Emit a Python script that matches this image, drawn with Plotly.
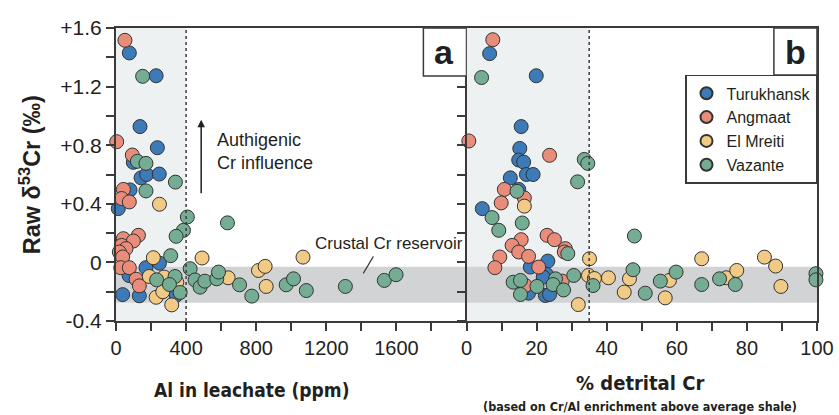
import plotly.graph_objects as go

# ---------------- data ----------------
series = ["Turukhansk", "Angmaat", "El Mreiti", "Vazante"]
colors = {"Turukhansk": "#3d7ab8", "Angmaat": "#ea8c7a", "El Mreiti": "#f1ca85", "Vazante": "#74ad93"}

# Panel a: Al in leachate (ppm) vs raw d53Cr
turukhansk_a_al = [76, 229, 137, 236, 99, 143, 175, 247, 80, 13, 248, 171, 75, 38, 133, 343]
turukhansk_a_d = [1.43, 1.274, 0.927, 0.783, 0.683, 0.577, 0.60, 0.603, 0.495, 0.367, -0.005, -0.036, -0.09, -0.22, -0.228, -0.225]

angmaat_a_al = [51, 4, 93, 42, 32, 76, 128, 42, 99, 32, 57, 19, 38, 27, 76, 115, 133]
angmaat_a_d = [1.516, 0.824, 0.733, 0.498, 0.436, 0.413, 0.185, 0.162, 0.146, 0.116, 0.094, 0.071, 0.037, -0.036, -0.036, -0.115, -0.16]

elmreiti_a_al = [248, 213, 491, 190, 274, 347, 229, 267, 318, 640, 813, 851, 857, 1067]
elmreiti_a_d = [0.397, 0.032, 0.03, -0.096, -0.1, -0.135, -0.238, -0.2, -0.29, -0.105, -0.055, -0.027, -0.164, 0.036]

vazante_a_al = [152, 122, 171, 339, 171, 407, 636, 385, 343, 312, 423, 232, 337, 451, 480, 507,
                575, 585, 705, 775, 305, 366, 971, 1013, 1086, 1309, 1531, 1598]
vazante_a_d = [1.27, 0.69, 0.676, 0.548, 0.488, 0.31, 0.27, 0.219, 0.178, 0.046, -0.043, -0.119, -0.096, -0.12, -0.169, -0.128,
               -0.112, -0.066, -0.153, -0.23, -0.151, -0.205, -0.153, -0.112, -0.192, -0.164, -0.123, -0.084]

# Panel b: % detrital Cr vs raw d53Cr
turukhansk_b_det = [6.6, 19.9, 15.6, 15.2, 14.9, 16.3, 17.1, 19.0, 12.5, 14.9, 4.5, 23.2, 18.2, 22.8, 21.9, 17.7, 22.5, 23.7]
turukhansk_b_d = [1.425, 1.274, 0.927, 0.778, 0.699, 0.685, 0.60, 0.60, 0.577, 0.498, 0.367, 0.009, -0.032, -0.082, -0.1, -0.21, -0.226, -0.219]

angmaat_b_det = [7.5, 0.66, 23.7, 10.8, 16.5, 9.9, 23.0, 25.1, 15.6, 13.0, 14.9, 17.7, 28.2, 27.9, 9.5, 8.1, 20.6, 16.8, 27.3]
angmaat_b_d = [1.52, 0.829, 0.731, 0.498, 0.44, 0.406, 0.185, 0.155, 0.155, 0.116, 0.071, 0.041, 0.094, 0.071, 0.037, -0.036, -0.032, -0.158, -0.128]

elmreiti_b_det = [16.5, 35.1, 34.8, 36.5, 31.9, 40.5, 46.5, 45.0, 56.7, 57.9, 67.1, 74.1, 77.1, 85.0, 88.2, 89.7]
elmreiti_b_d = [0.384, 0.025, -0.089, -0.11, -0.288, -0.105, -0.112, -0.203, -0.242, -0.123, 0.025, -0.105, -0.055, 0.036, -0.025, -0.164]

vazante_b_det = [4.3, 33.6, 34.6, 31.7, 14.4, 7.3, 15.9, 9.2, 28.9, 30.6, 13.3, 15.4, 20.1, 25.4, 24.7, 27.7, 36.1, 15.4,
                 47.5, 47.9, 51.0, 55.3, 59.8, 67.1, 72.2, 76.7, 99.7, 99.7]
vazante_b_d = [1.262, 0.703, 0.676, 0.55, 0.485, 0.306, 0.269, 0.219, 0.06, -0.089, -0.135, -0.123, -0.164, -0.112, -0.151, -0.188, -0.158, -0.219,
               -0.05, 0.18, -0.21, -0.128, -0.066, -0.151, -0.112, -0.151, -0.077, -0.119]

y_tickvals = [-0.4, 0, 0.4, 0.8, 1.2, 1.6]
y_ticktext = ["-0.4", "0", "+0.4", "+0.8", "+1.2", "+1.6"]
xa_tickvals = [0, 400, 800, 1200, 1600]
xb_tickvals = [0, 20, 40, 60, 80, 100]

panel_a = {"Turukhansk": (turukhansk_a_al, turukhansk_a_d), "Angmaat": (angmaat_a_al, angmaat_a_d),
           "El Mreiti": (elmreiti_a_al, elmreiti_a_d), "Vazante": (vazante_a_al, vazante_a_d)}
panel_b = {"Turukhansk": (turukhansk_b_det, turukhansk_b_d), "Angmaat": (angmaat_b_det, angmaat_b_d),
           "El Mreiti": (elmreiti_b_det, elmreiti_b_d), "Vazante": (vazante_b_det, vazante_b_d)}

# ---------------- figure ----------------
AX = "#3a3a3a"
TXT = "#231f20"
FONT = "Liberation Sans, Arial, sans-serif"
NARROW = "Liberation Sans Narrow, DejaVu Sans Condensed, Liberation Sans, sans-serif"

fig = go.Figure()
marker_line = dict(color="#333333", width=1)
for s in series:
    x, y = panel_a[s]
    fig.add_trace(go.Scatter(x=x, y=y, mode="markers", name=s, xaxis="x", yaxis="y",
                             marker=dict(size=14, color=colors[s], line=marker_line),
                             cliponaxis=False, showlegend=True))
for s in series:
    x, y = panel_b[s]
    fig.add_trace(go.Scatter(x=x, y=y, mode="markers", name=s, xaxis="x2", yaxis="y2",
                             marker=dict(size=14, color=colors[s], line=marker_line),
                             cliponaxis=False, showlegend=False))

shapes = []
shapes.append(dict(type="rect", xref="x", yref="y", x0=0, x1=400, y0=-0.4, y1=1.6,
                   fillcolor="#eef1f1", line=dict(width=0), layer="below"))
shapes.append(dict(type="rect", xref="x2", yref="y2", x0=0, x1=35, y0=-0.4, y1=1.6,
                   fillcolor="#eef1f1", line=dict(width=0), layer="below"))
shapes.append(dict(type="rect", xref="x", yref="y", x0=0, x1=2000, y0=-0.275, y1=-0.03,
                   fillcolor="#d2d3d5", line=dict(width=0), layer="below"))
shapes.append(dict(type="rect", xref="x2", yref="y2", x0=0, x1=100, y0=-0.275, y1=-0.03,
                   fillcolor="#d2d3d5", line=dict(width=0), layer="below"))
shapes.append(dict(type="line", xref="x", yref="y", x0=400, x1=400, y0=-0.4, y1=1.6,
                   line=dict(color=AX, width=1.5, dash="dot")))
shapes.append(dict(type="line", xref="x2", yref="y2", x0=35, x1=35, y0=-0.4, y1=1.6,
                   line=dict(color=AX, width=1.5, dash="dot")))
shapes.append(dict(type="rect", xref="x", yref="y", x0=1754, x1=2000, y0=1.272, y1=1.6,
                   fillcolor="white", line=dict(color=AX, width=1.5)))
shapes.append(dict(type="rect", xref="x2", yref="y2", x0=87.7, x1=100, y0=1.28, y1=1.6,
                   fillcolor="white", line=dict(color=AX, width=1.5)))
shapes.append(dict(type="line", xref="x", yref="y", x0=1469, x1=1411, y0=0.041, y1=-0.075,
                   line=dict(color=AX, width=1.2)))

annotations = [
    dict(x=1874, y=1.436, xref="x", yref="y", text="<b>a</b>", showarrow=False,
         font=dict(size=34, family=FONT, color=TXT)),
    dict(x=93.85, y=1.436, xref="x2", yref="y2", text="<b>b</b>", showarrow=False,
         font=dict(size=34, family=FONT, color=TXT)),
    dict(x=51, y=1.72, xref="x", yref="y", ax=0, ay=24, text="", showarrow=True,
         arrowhead=2, arrowsize=1, arrowwidth=2, arrowcolor=TXT),
    dict(x=110, y=1.715, xref="x", yref="y", text="+1.77‰", showarrow=False, xanchor="left",
         font=dict(size=13, family=FONT, color=TXT)),
    dict(x=7.3, y=1.72, xref="x2", yref="y2", ax=0, ay=24, text="", showarrow=True,
         arrowhead=2, arrowsize=1, arrowwidth=2, arrowcolor=TXT),
    dict(x=10.0, y=1.715, xref="x2", yref="y2", text="+1.77‰", showarrow=False, xanchor="left",
         font=dict(size=13, family=FONT, color=TXT)),
    dict(x=486, y=0.973, xref="x", yref="y", ax=0, ay=75, text="", showarrow=True,
         arrowhead=2, arrowsize=1, arrowwidth=1.5, arrowcolor=TXT),
    dict(x=566, y=0.755, xref="x", yref="y", text="Authigenic<br>Cr influence", showarrow=False,
         xanchor="left", align="left", font=dict(size=18, family=FONT, color=TXT)),
    dict(x=1126, y=0.13, xref="x", yref="y", text="Crustal Cr reservoir", showarrow=False,
         xanchor="left", font=dict(size=17, family=FONT, color=TXT)),
    dict(x=-0.123, y=0.5, xref="paper", yref="paper", text="<b>Raw δ<sup>53</sup>Cr (‰)</b>",
         showarrow=False, textangle=-90, xanchor="center", yanchor="middle",
         font=dict(size=23.5, family=FONT, color=TXT)),
    dict(x=0.194, y=-0.235, xref="paper", yref="paper", text="<b>Al in leachate (ppm)</b>",
         showarrow=False, xanchor="center", yanchor="middle",
         font=dict(size=19, family=NARROW, color=TXT)),
    dict(x=0.747, y=-0.212, xref="paper", yref="paper", text="<b>% detrital Cr</b>",
         showarrow=False, xanchor="center", yanchor="middle",
         font=dict(size=20, family=NARROW, color=TXT)),
    dict(x=0.747, y=-0.293, xref="paper", yref="paper",
         text="<b>(based on Cr/Al enrichment above average shale)</b>",
         showarrow=False, xanchor="center", yanchor="middle",
         font=dict(size=12.5, family=NARROW, color=TXT)),
]

axis_common = dict(showline=True, linecolor=AX, linewidth=2, ticks="outside", ticklen=8,
                   tickwidth=2, tickcolor=AX, showgrid=False, zeroline=False, automargin=False,
                   ticklabeloverflow="allow",
                   tickfont=dict(size=20, family=FONT, color=TXT))

fig.update_layout(
    width=839, height=415,
    margin=dict(l=116, r=22, t=28, b=94, autoexpand=False),
    paper_bgcolor="white", plot_bgcolor="white",
    shapes=shapes, annotations=annotations,
    xaxis=dict(domain=[0, 0.5], range=[0, 2000], anchor="y", mirror=True,
               tickmode="array", tickvals=xa_tickvals,
               minor=dict(tickmode="linear", tick0=0, dtick=200, ticks="outside", ticklen=8,
                          tickwidth=2, tickcolor=AX),
               **axis_common),
    xaxis2=dict(domain=[0.5, 1], range=[0, 100], anchor="y2", mirror=True,
                tickmode="array", tickvals=xb_tickvals,
                minor=dict(tickmode="linear", tick0=0, dtick=10, ticks="outside", ticklen=8,
                           tickwidth=2, tickcolor=AX),
                **axis_common),
    yaxis=dict(range=[-0.4, 1.6], anchor="x", domain=[0, 1],
               tickmode="array", tickvals=y_tickvals, ticktext=y_ticktext,
               minor=dict(tickmode="linear", tick0=0, dtick=0.2, ticks="outside", ticklen=8,
                          tickwidth=2, tickcolor=AX),
               **{**axis_common, "tickfont": dict(size=21, family=FONT, color=TXT)}),
    yaxis2=dict(range=[-0.4, 1.6], anchor="x2", domain=[0, 1], mirror=True,
                tickmode="array", tickvals=y_tickvals, showticklabels=False,
                minor=dict(tickmode="linear", tick0=0, dtick=0.2, ticks="outside", ticklen=8,
                           tickwidth=2, tickcolor=AX),
                **axis_common),
    legend=dict(x=1, y=0.84, xanchor="right", yanchor="top", bgcolor="white",
                bordercolor=AX, borderwidth=1.5, font=dict(size=16, family=FONT, color=TXT),
                itemsizing="constant", tracegroupgap=0, itemwidth=30),
    showlegend=True,
)

fig.write_html("out.html", config={"displayModeBar": False},
               post_script="document.body.style.margin='0';")
